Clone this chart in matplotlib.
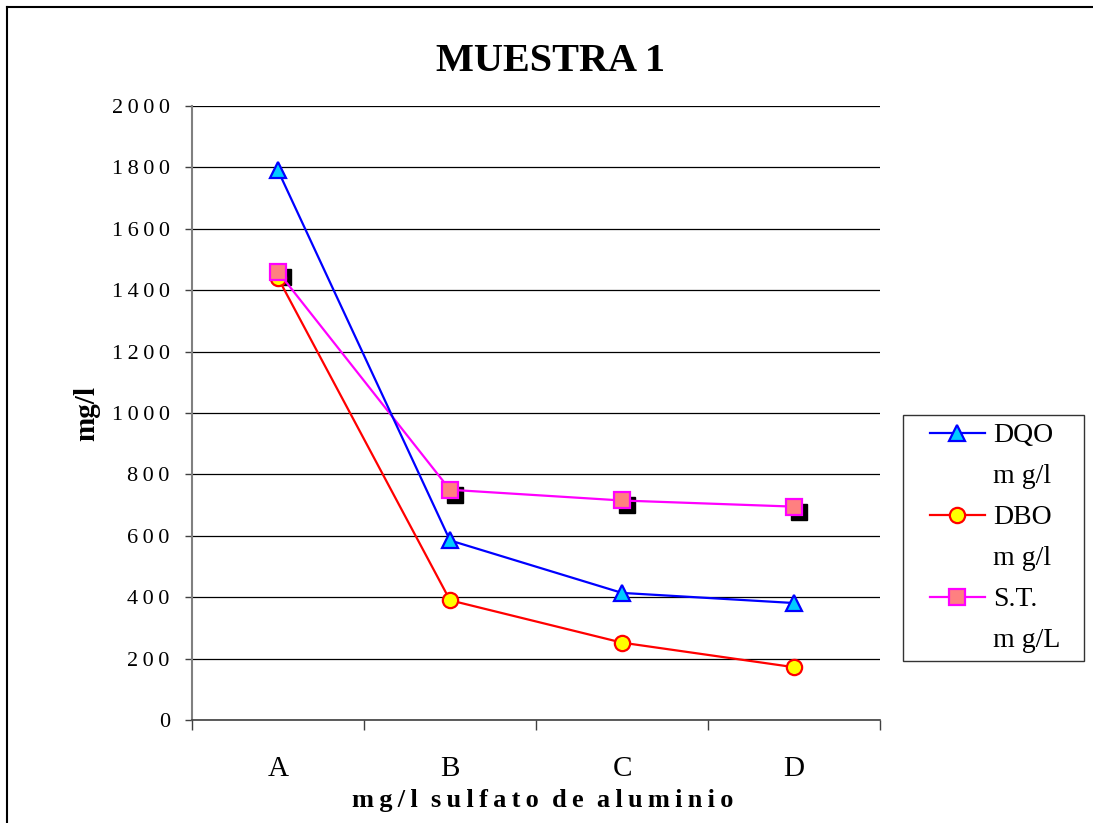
import matplotlib
matplotlib.use("Agg")
import matplotlib.pyplot as plt
from matplotlib.lines import Line2D
from matplotlib.legend_handler import HandlerLine2D
from matplotlib.transforms import offset_copy

categories = ["A", "B", "C", "D"]
series_names = ["DQO", "DBO", "S.T."]
series_units = ["m g/l", "m g/l", "m g/L"]
dqo = [1790, 585, 414, 381]
dbo = [1440, 390, 252, 172]
st = [1460, 750, 715, 695]
yticks = [0, 200, 400, 600, 800, 1000, 1200, 1400, 1600, 1800, 2000]

TS = "\u2009"  # thin space for letter spacing
WS = "\u2002"  # en space between words


def spaced(s, sep=TS):
    return sep.join(s)


plt.rcParams['font.family'] = ['Liberation Serif', 'DejaVu Serif']

fig = plt.figure(figsize=(10.93, 8.23), dpi=100)
ax = fig.add_axes([192/1093, 1-720/823, 688/1093, 614/823])

x = list(range(len(categories)))

ax.set_axisbelow(True)
ax.yaxis.grid(True, color='black', linewidth=0.9)

# shadow squares behind S.T. markers
shadow_tr = offset_copy(ax.transData, fig=fig, x=5, y=-5, units='dots')
ax.plot(x, st, linestyle='none', marker='s', markersize=11, color='black',
        markeredgecolor='black', transform=shadow_tr, zorder=3)

l_dbo, = ax.plot(x, dbo, color='#FF0000', linewidth=1.6, marker='o', markersize=11,
                 markerfacecolor='#FFFF00', markeredgecolor='#FF0000', markeredgewidth=1.6,
                 zorder=4)
l_st, = ax.plot(x, st, color='#FF00FF', linewidth=1.6, marker='s', markersize=11,
                markerfacecolor='#FF8080', markeredgecolor='#FF00FF', markeredgewidth=1.6,
                zorder=4)
l_dqo, = ax.plot(x, dqo, color='#0000FF', linewidth=1.6, marker='^', markersize=12,
                 markerfacecolor='#00CCFF', markeredgecolor='#0000FF', markeredgewidth=1.6,
                 zorder=5)

ax.set_xlim(-0.5, len(categories) - 0.5)
ax.set_ylim(0, 2000)
ax.set_yticks(yticks)
ax.set_yticklabels([spaced(str(v)) for v in yticks], fontsize=16)
ax.set_xticks(x)
ax.set_xticklabels(categories, fontsize=21)
ax.set_xticks([i - 0.5 for i in range(len(categories) + 1)], minor=True)
ax.tick_params(axis='x', which='major', length=0, pad=26)
ax.tick_params(axis='x', which='minor', length=7, width=1, color='#404040', direction='out')
ax.tick_params(axis='y', length=5, width=1, color='#404040', direction='out', pad=11)

for s in ['top', 'right']:
    ax.spines[s].set_visible(False)
ax.spines['left'].set_color('#808080')
ax.spines['left'].set_linewidth(1.5)
ax.spines['bottom'].set_color('#404040')
ax.spines['bottom'].set_linewidth(1.2)

ax.set_title('MUESTRA 1', fontsize=29, fontweight='bold', pad=25,
             x=(551-192)/688)

xl = "mg/l sulfato de aluminio"
ax.set_xlabel(WS.join(spaced(w) for w in xl.split(" ")), fontsize=19, fontweight='bold')
ax.xaxis.label.set_va('center')
ax.xaxis.set_label_coords(0.509, (720-800)/614)
ax.set_ylabel('mg/l', fontsize=21, fontweight='bold')
ax.yaxis.label.set_va('center')
ax.yaxis.set_label_coords((87-192)/688, 0.5)

# legend: name row with marker, unit row without
blank = Line2D([], [], linestyle='none', marker=None)
handles, labels = [], []
for h, n, u in zip([l_dqo, l_dbo, l_st], series_names, series_units):
    handles += [h, blank]
    labels += [n, u]
hl = HandlerLine2D(xpad=0.68)
leg = fig.legend(handles, labels,
                 loc='upper left',
                 bbox_to_anchor=(903/1093, 1-660/823, 181/1093, 245/823),
                 mode='expand',
                 fontsize=20, frameon=True, fancybox=False, edgecolor='black',
                 handlelength=2.68, labelspacing=0.56, borderpad=0.28,
                 handletextpad=0.27, borderaxespad=0,
                 handler_map={l_dqo: hl, l_dbo: hl, l_st: hl})
leg.get_frame().set_linewidth(1.0)

# outer border (left and top)
fig.add_artist(Line2D([7/1093, 7/1093], [0, 1-7/823], transform=fig.transFigure,
                      color='black', linewidth=1.5))
fig.add_artist(Line2D([7/1093, 1], [1-7/823, 1-7/823], transform=fig.transFigure,
                      color='black', linewidth=1.5))

fig.savefig('out.png', dpi=100)
